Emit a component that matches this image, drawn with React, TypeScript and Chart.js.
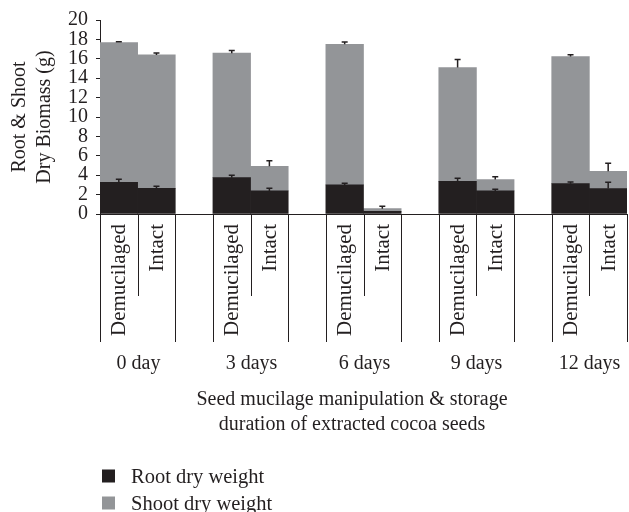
import React, { useEffect, useRef } from "react";
import { Chart, registerables } from "chart.js";

Chart.register(...registerables);

const categories = [
  "Demucilaged", "Intact", "",
  "Demucilaged", "Intact", "",
  "Demucilaged", "Intact", "",
  "Demucilaged", "Intact", "",
  "Demucilaged", "Intact",
];
const groupLabels = ["0 day", "3 days", "6 days", "9 days", "12 days"];
const rootDry = [3.27, 2.65, null, 3.75, 2.38, null, 3.0, 0.27, null, 3.37, 2.38, null, 3.13, 2.62];
const shootDry = [14.41, 13.75, null, 12.83, 2.54, null, 14.5, 0.28, null, 11.73, 1.17, null, 13.11, 1.79];
const rootErr = [0.3, 0.2, null, 0.25, 0.27, null, 0.17, 0, null, 0.31, 0.17, null, 0.17, 0.65];
const shootErr = [0.07, 0.2, null, 0.28, 0.57, null, 0.24, 0.24, null, 0.83, 0.28, null, 0.17, 0.83];
const seriesNames = ["Root dry weight", "Shoot dry weight"];
const yTitle = ["Root & Shoot", "Dry Biomass (g)"];
const xTitle = ["Seed mucilage manipulation & storage", "duration of extracted cocoa seeds"];

const INK = "#231f20";
const ROOT = "#231f20";
const SHOOT = "#939598";
const FONT = "Liberation Serif";

const overlayPlugin = {
  id: "overlay",
  afterDatasetsDraw(chart: any) {
    const ctx = chart.ctx;
    const y = chart.scales.y;
    const meta0 = chart.getDatasetMeta(0);
    ctx.save();
    ctx.strokeStyle = INK;
    ctx.lineWidth = 1.5;
    const cap = 3;
    for (let i = 0; i < categories.length; i++) {
      const r = rootDry[i];
      const s = shootDry[i];
      if (r == null || s == null) continue;
      const x = meta0.data[i].x;
      const segs: [number, number][] = [];
      if (rootErr[i]) segs.push([r, r + (rootErr[i] as number)]);
      if (shootErr[i]) segs.push([r + s, r + s + (shootErr[i] as number)]);
      for (const [a, b] of segs) {
        const ya = y.getPixelForValue(a);
        const yb = y.getPixelForValue(b);
        ctx.beginPath();
        ctx.moveTo(x, ya);
        ctx.lineTo(x, yb);
        ctx.moveTo(x - cap, yb);
        ctx.lineTo(x + cap, yb);
        ctx.stroke();
      }
    }
    ctx.restore();
  },
  afterDraw(chart: any) {
    const ctx = chart.ctx;
    const xs = chart.scales.x;
    const base = chart.chartArea.bottom;
    const half = (xs.getPixelForValue(1) - xs.getPixelForValue(0)) / 2;
    ctx.save();
    ctx.strokeStyle = INK;
    ctx.fillStyle = INK;
    ctx.lineWidth = 1;
    for (let g = 0; g < groupLabels.length; g++) {
      const iD = g * 3;
      const iI = g * 3 + 1;
      const left = Math.round(xs.getPixelForValue(iD) - half) + 0.5;
      const mid = Math.round(xs.getPixelForValue(iD) + half) + 0.5;
      const right = Math.round(xs.getPixelForValue(iI) + half) + 0.5;
      ctx.beginPath();
      ctx.moveTo(left, base);
      ctx.lineTo(left, 342);
      ctx.moveTo(mid, base);
      ctx.lineTo(mid, 296);
      ctx.moveTo(right, base);
      ctx.lineTo(right, 342);
      ctx.stroke();
      ctx.font = `21px "${FONT}"`;
      for (const i of [iD, iI]) {
        ctx.save();
        ctx.translate(xs.getPixelForValue(i) + 1, 224);
        ctx.rotate(-Math.PI / 2);
        ctx.textAlign = "right";
        ctx.textBaseline = "middle";
        ctx.fillText(categories[i], 0, 0);
        ctx.restore();
      }
      ctx.font = `20px "${FONT}"`;
      ctx.textAlign = "center";
      ctx.textBaseline = "alphabetic";
      ctx.fillText(groupLabels[g], mid, 368.5);
    }
    ctx.font = `20px "${FONT}"`;
    ctx.textAlign = "center";
    ctx.textBaseline = "alphabetic";
    ctx.fillText(xTitle[0], 352, 405);
    ctx.fillText(xTitle[1], 352, 430);
    const colors = [ROOT, SHOOT];
    const baselines = [483, 510];
    ctx.font = `20.5px "${FONT}"`;
    ctx.textAlign = "left";
    for (let k = 0; k < 2; k++) {
      ctx.fillStyle = colors[k];
      ctx.fillRect(102, baselines[k] - 13.5, 13, 13);
      ctx.fillStyle = INK;
      ctx.fillText(seriesNames[k], 131, baselines[k]);
    }
    ctx.restore();
  },
};

export default function App() {
  const ref = useRef<HTMLCanvasElement | null>(null);
  useEffect(() => {
    document.body.style.margin = "0";
    const canvas = ref.current;
    if (!canvas) return;
    const chart = new Chart(canvas, {
      type: "bar",
      data: {
        labels: categories,
        datasets: [
          {
            label: seriesNames[0],
            data: rootDry as any,
            backgroundColor: ROOT,
            barPercentage: 1,
            categoryPercentage: 1,
            borderWidth: 0,
          },
          {
            label: seriesNames[1],
            data: shootDry as any,
            backgroundColor: SHOOT,
            barPercentage: 1,
            categoryPercentage: 1,
            borderWidth: 0,
          },
        ],
      },
      options: {
        animation: false,
        responsive: false,
        maintainAspectRatio: false,
        layout: { padding: { top: 20, right: 2, bottom: 298, left: 0 } },
        plugins: { legend: { display: false }, tooltip: { enabled: false } },
        scales: {
          x: {
            stacked: true,
            offset: true,
            grid: { display: false },
            ticks: { display: false },
            border: { display: true, color: INK, width: 1 },
            afterFit: (s: any) => { s.height = 0; },
          },
          y: {
            stacked: true,
            min: 0,
            max: 20,
            ticks: {
              stepSize: 2,
              autoSkip: false,
              color: INK,
              padding: 8,
              font: { family: FONT, size: 20, lineHeight: 1 },
            },
            grid: { drawOnChartArea: false, drawTicks: true, tickLength: 4, color: INK },
            border: { display: true, color: INK, width: 1 },
            title: {
              display: true,
              text: yTitle,
              color: INK,
              font: { family: FONT, size: 20, lineHeight: 1.25 },
              padding: { top: 7, bottom: 0 },
            },
            afterFit: (s: any) => { s.width = 100; },
          },
        },
      },
      plugins: [overlayPlugin],
    });
    return () => chart.destroy();
  }, []);
  return <canvas ref={ref} width={629} height={512} style={{ display: "block" }} />;
}
